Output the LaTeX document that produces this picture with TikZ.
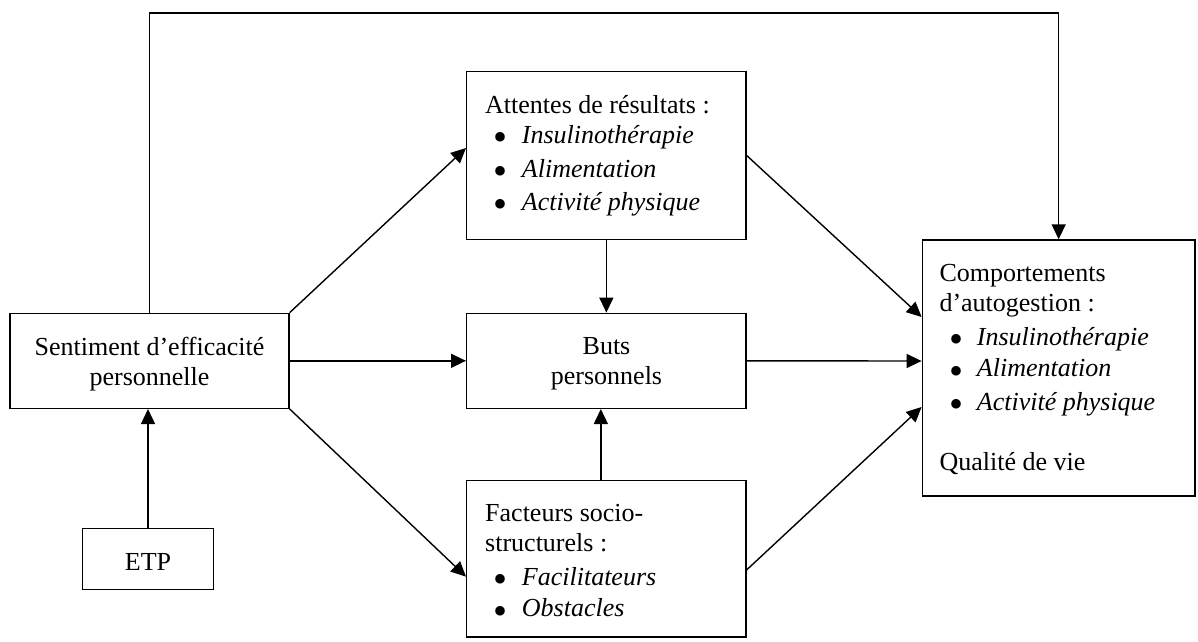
\documentclass[tikz,border=0pt]{standalone}
\usepackage{fontspec}
\setmainfont{Liberation Serif}
\usetikzlibrary{arrows.meta,fit}
\begin{document}
\begin{tikzpicture}[x=1pt,y=-1pt,
  box/.style={draw,line width=1.4pt,inner sep=0pt},
  arr/.style={line width=1.4pt,-{Triangle[length=15pt,width=14pt]}},
  txt/.style={inner sep=0pt,anchor=base west,font=\fontsize{26}{30}\selectfont},
  ctxt/.style={txt,anchor=base},
  itm/.style={txt,font=\fontsize{26}{30}\selectfont\itshape},
  bul/.style={inner sep=0pt,anchor=base,yshift=-7.5pt,font=\fontsize{40}{40}\selectfont}]
\useasboundingbox (0,0) rectangle (1198,641);

% boxes
\node[box, fit={(10,313.3) (289,408.3)}] (sent) {};
\node[box, fit={(82.7,528.3) (213.3,589.3)}] (etp) {};
\node[box, fit={(466.7,71.7) (746,239.3)}] (att) {};
\node[box, fit={(466.7,313.3) (746,408.3)}] (buts) {};
\node[box, fit={(466.7,480.7) (746,637)}] (fac) {};
\node[box, fit={(922.3,240) (1195,496)}] (comp) {};

% texts: Sentiment
\node[ctxt] (s1) at (149.5,355) {Sentiment d’efficacité};
\node[ctxt] (s2) at (149.5,385) {personnelle};
% ETP
\node[ctxt] (e1) at (148,570) {ETP};
% Attentes
\node[txt] (a0) at (485,113.3) {Attentes de résultats :};
\node[bul] (ab1) at (500,143.3) {•};
\node[itm] (a1) at (521.7,143.3) {Insulinothérapie};
\node[bul] (ab2) at (500,177) {•};
\node[itm] (a2) at (521.7,177) {Alimentation};
\node[bul] (ab3) at (500,210) {•};
\node[itm] (a3) at (521.7,210) {Activité physique};
% Buts
\node[ctxt] (b1) at (606.5,354) {Buts};
\node[ctxt] (b2) at (606.5,384) {personnels};
% Facteurs
\node[txt] (f0) at (485,521.7) {Facteurs socio-};
\node[txt] (f1) at (485,551.7) {structurels :};
\node[bul] (fb1) at (500,585) {•};
\node[itm] (f2) at (521.7,585) {Facilitateurs};
\node[bul] (fb2) at (500,616.7) {•};
\node[itm] (f3) at (521.7,616.7) {Obstacles};
% Comportements
\node[txt] (c0) at (939.3,281.7) {Comportements};
\node[txt] (c1) at (939.3,311.7) {d’autogestion :};
\node[bul] (cb1) at (956,345) {•};
\node[itm] (c2) at (976.7,345) {Insulinothérapie};
\node[bul] (cb2) at (956,376.7) {•};
\node[itm] (c3) at (976.7,376.7) {Alimentation};
\node[bul] (cb3) at (956,410) {•};
\node[itm] (c4) at (976.7,410) {Activité physique};
\node[txt] (c5) at (939.3,470.7) {Qualité de vie};

% connectors
\coordinate (tl) at (150.7,13);
\draw[arr] (sent.north) -- (sent.north |- tl) -| (comp.north);
\draw[arr] (etp.north) -- (etp.north |- sent.south);
\draw[arr] (sent.north east) -- ([yshift=7.5pt]att.west);
\draw[arr] (sent.east) -- (buts.west);
\draw[arr] (sent.south east) -- ([yshift=-17.8pt]fac.west);
\draw[arr] (att.south) -- (buts.north);
\draw[arr] ([xshift=-5.5pt]fac.north) -- ([xshift=-5.5pt]buts.south);
\draw[arr] (att.east) -- ([yshift=51pt]comp.west);
\draw[arr] (buts.east) -- ([yshift=7pt]comp.west);
\draw[arr] ([yshift=-11pt]fac.east) -- ([yshift=-39pt]comp.west);
\end{tikzpicture}
\end{document}
